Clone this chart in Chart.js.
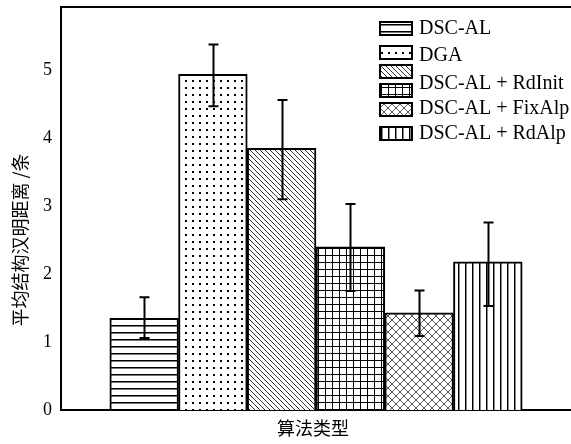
<!DOCTYPE html>
<html>
<head>
<meta charset="utf-8">
<script src="https://cdn.jsdelivr.net/npm/chart.js@4.4.1/dist/chart.umd.min.js"></script>
<style>
  html, body { margin: 0; padding: 0; background: #fff; }
  #wrap { width: 571px; height: 444px; }
</style>
</head>
<body>
<div id="wrap"><canvas id="hamming_chart" width="571" height="444"></canvas></div>
<script>
// chart data
var algoNames = ['DSC-AL', 'DGA', '', 'DSC-AL + RdInit', 'DSC-AL + FixAlp', 'DSC-AL + RdAlp'];
var meanValues = [1.35, 4.94, 3.85, 2.40, 1.43, 2.18];
var errLow = [1.06, 4.47, 3.10, 1.75, 1.09, 1.53];
var errHigh = [1.66, 5.38, 4.56, 3.03, 1.76, 2.76];
var yTicks = [0, 1, 2, 3, 4, 5];

var serif = '"Liberation Serif", "DejaVu Serif", serif';
var cjk = '"Noto Sans CJK SC", sans-serif';

// hatch patterns
function makePattern(size, draw) {
  var c = document.createElement('canvas');
  c.width = size; c.height = size;
  var g = c.getContext('2d');
  g.fillStyle = '#fff';
  g.fillRect(0, 0, size, size);
  draw(g, size);
  return g.createPattern(c, 'repeat');
}

var patterns = [
  makePattern(7, function(g, s) { g.fillStyle = '#000'; g.fillRect(0, 3, s, 1); g.fillStyle = '#777'; g.fillRect(0, 4, s, 1); }),
  makePattern(7, function(g, s) { g.fillStyle = '#000'; g.fillRect(3, 3, 2, 2); }),
  makePattern(5, function(g, s) {
    g.strokeStyle = '#333'; g.lineWidth = 1;
    g.beginPath();
    g.moveTo(-1, -1); g.lineTo(s + 1, s + 1);
    g.moveTo(-s - 1, -1); g.lineTo(1, s + 1);
    g.moveTo(s - 1, -1); g.lineTo(2 * s + 1, s + 1);
    g.stroke();
  }),
  makePattern(7, function(g, s) { g.fillStyle = '#000'; g.fillRect(0, 3, s, 1); g.fillRect(3, 0, 1, s); }),
  makePattern(8, function(g, s) {
    g.strokeStyle = '#555'; g.lineWidth = 1;
    g.beginPath();
    g.moveTo(0, 0); g.lineTo(s, s);
    g.moveTo(s, 0); g.lineTo(0, s);
    g.stroke();
  }),
  makePattern(7, function(g, s) { g.fillStyle = '#000'; g.fillRect(3, 0, 1, s); g.fillStyle = '#888'; g.fillRect(4, 0, 1, s); })
];

// error bars
var errorBars = {
  id: 'errorBars',
  afterDatasetsDraw: function(chart) {
    var ctx = chart.ctx, y = chart.scales.y;
    var meta = chart.getDatasetMeta(0);
    ctx.save();
    ctx.strokeStyle = '#000';
    ctx.lineWidth = 2;
    meta.data.forEach(function(bar, i) {
      var x = Math.round(bar.x) + 0.5;
      var top = y.getPixelForValue(errHigh[i]);
      var bot = y.getPixelForValue(errLow[i]);
      ctx.beginPath();
      ctx.moveTo(x, top); ctx.lineTo(x, bot);
      ctx.moveTo(x - 5, top); ctx.lineTo(x + 5, top);
      ctx.moveTo(x - 5, bot); ctx.lineTo(x + 5, bot);
      ctx.stroke();
    });
    ctx.restore();
  }
};

// frame top line, titles and legend
var decorations = {
  id: 'decorations',
  afterDraw: function(chart) {
    var ctx = chart.ctx, a = chart.chartArea;
    ctx.save();
    ctx.strokeStyle = '#000';
    ctx.lineWidth = 2;
    ctx.beginPath();
    ctx.moveTo(a.left - 1, a.top); ctx.lineTo(a.right, a.top);
    ctx.stroke();

    // axis titles
    ctx.fillStyle = '#000';
    ctx.font = '18px ' + cjk;
    ctx.textAlign = 'center';
    ctx.textBaseline = 'middle';
    ctx.fillText('算法类型', 313, 428);
    ctx.save();
    ctx.translate(20, 240);
    ctx.rotate(-Math.PI / 2);
    ctx.fillText('平均结构汉明距离 /条', 0, 0);
    ctx.restore();

    // legend
    var tops = [22, 46, 65, 84, 103, 127];
    var textY = [29, 56, 0, 84, 109, 134];
    for (var i = 0; i < algoNames.length; i++) {
      ctx.fillStyle = patterns[i];
      ctx.fillRect(380, tops[i], 32, 13);
      ctx.lineWidth = 2;
      ctx.strokeRect(380, tops[i], 32, 13);
      if (algoNames[i]) {
        ctx.fillStyle = '#000';
        ctx.font = '20px ' + serif;
        ctx.textAlign = 'left';
        ctx.fillText(algoNames[i], 419, textY[i]);
      }
    }
    ctx.restore();
  }
};

const config = {
  type: 'bar',
  data: {
    datasets: [{
      data: meanValues.map(function(v, i) { return { x: i + 1, y: v }; }),
      backgroundColor: patterns,
      borderColor: '#000',
      borderWidth: 2,
      categoryPercentage: 1,
      barPercentage: 1
    }]
  },
  options: {
    responsive: false,
    animation: false,
    layout: { padding: { top: 7, right: 0, bottom: 0, left: 0 } },
    plugins: { legend: { display: false }, tooltip: { enabled: false } },
    scales: {
      x: {
        type: 'linear',
        offset: false,
        min: -0.21,
        max: 7.21,
        grid: { display: false, drawTicks: false },
        border: { display: true, color: '#000', width: 2 },
        ticks: { display: false },
        afterFit: function(s) { s.height = 34; s.paddingLeft = 0; s.paddingRight = 0; }
      },
      y: {
        min: 0,
        max: 5.93,
        grid: { display: false, drawTicks: false },
        border: { display: true, color: '#000', width: 2 },
        ticks: {
          stepSize: 1,
          includeBounds: false,
          padding: 9,
          color: '#000',
          font: { family: serif, size: 18 },
          callback: function(v) { return yTicks.indexOf(v) >= 0 ? String(v) : ''; }
        },
        afterFit: function(s) { s.width = 61; s.paddingTop = 0; s.paddingBottom = 0; }
      }
    }
  },
  plugins: [errorBars, decorations]
};

window.onload = function() {
  var ctx = document.getElementById('hamming_chart').getContext('2d');
  window.myBar = new Chart(ctx, config);
};
</script>
</body>
</html>
